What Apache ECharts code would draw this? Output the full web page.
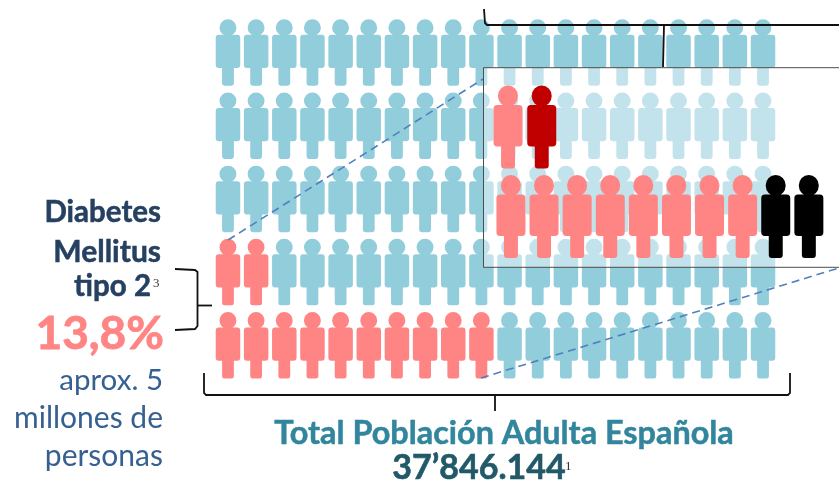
<!DOCTYPE html>
<html><head><meta charset="utf-8">
<style>html,body{margin:0;padding:0;background:#fff}#c{width:839px;height:481px}</style>
<script src="https://cdn.jsdelivr.net/npm/echarts@6/dist/echarts.min.js"></script>
</head><body><div id="c"></div>
<script>
// ---- data ----
const columnLabels = ['1','2','3','4','5','6','7','8','9','10','11','12','13','14','15','16','17','18','19','20'];
const rowLabels = ['A','B','C','D','E'];
const diabetesPerRow = [0, 0, 0, 2, 10];      // highlighted figures in each row, counted from the left
const insetTopLabels = ['1','2'];
const insetTopColours = ['#FF8585', '#C00000'];
const insetBottomLabels = ['1','2','3','4','5','6','7','8','9','10'];
const insetBottomColours = ['#FF8585','#FF8585','#FF8585','#FF8585','#FF8585','#FF8585','#FF8585','#FF8585','#000000','#000000'];
const textDiabetes = ['Diabetes', 'Mellitus', 'tipo 2'];
const textShare = '13,8%';
const textApprox = ['aprox. 5', 'millones de', 'personas'];
const textTotalLabel = 'Total Población Adulta Española';
const textTotalValue = '37’846.144';
// ---- drawing ----
const PERSON = 'path://M37 84a84 84 0 1 1 168 0a84 84 0 1 1 -168 0Z' +
  'M30 155H213Q243 155 243 185V457Q243 487 213 487H180V640Q180 664 156 664H87Q63 664 63 640V487H30Q0 487 0 457V185Q0 155 30 155Z';
const BLUE = '#92CDDC', PINK = '#FF8585';
const basePoints = [], hiPoints = [];
rowLabels.forEach((r, i) => columnLabels.forEach((c, j) => {
  (j < diabetesPerRow[i] ? hiPoints : basePoints).push([c, r]);
}));
function cat(gridIndex, data, extra){return Object.assign({type:'category',gridIndex,data,show:false,boundaryGap:true},extra||{});}
const rect = (shape, style, z) => ({type:'rect', shape, style, z, silent:true});
const poly = (points, style, z) => ({type:'polyline', shape:{points}, style:Object.assign({fill:null}, style), z, silent:true});
const BL = {stroke:'#111', lineWidth:1.8};
const text = (t, x, y, fill, font, align, heavy) => ({type:'text', z:30, silent:true,
  style:Object.assign({text:t, x, y, fill, font, textAlign:align||'right', textVerticalAlign:'middle'},
    heavy ? {stroke:fill, lineWidth:heavy} : {})});
const F = '"Lato","Carlito",sans-serif';
const bold = s => 'bold '+s+'px '+F;
const reg = s => s+'px '+F;
const DARK = '#254061', MID = '#376092';
const option = {
  animation:false,
  backgroundColor:'#fff',
  grid:[
    {left:213.9, top:15.9, width:563.2, height:366},
    {left:491.2, top:82, width:67.4, height:90},
    {left:494.4, top:171.5, width:331, height:90}
  ],
  xAxis:[cat(0,columnLabels),cat(1,insetTopLabels),cat(2,insetBottomLabels)],
  yAxis:[cat(0,rowLabels,{inverse:true}),cat(1,['a']),cat(2,['b'])],
  series:[
    {type:'scatter',name:'Población',xAxisIndex:0,yAxisIndex:0,symbol:PERSON,symbolSize:[24.5,66.5],z:2,silent:true,
     itemStyle:{color:BLUE,opacity:1},data:basePoints},
    {type:'scatter',name:'Diabetes',xAxisIndex:0,yAxisIndex:0,symbol:PERSON,symbolSize:[24.5,66.5],z:2,silent:true,
     itemStyle:{color:PINK,opacity:1},data:hiPoints},
    {type:'scatter',name:'Detalle 1',xAxisIndex:1,yAxisIndex:1,symbol:PERSON,symbolSize:[29,83],z:20,silent:true,
     data:insetTopLabels.map((c,i)=>({value:[c,'a'],itemStyle:{color:insetTopColours[i],opacity:1}}))},
    {type:'scatter',name:'Detalle 2',xAxisIndex:2,yAxisIndex:2,symbol:PERSON,symbolSize:[29,83],z:20,silent:true,
     data:insetBottomLabels.map((c,i)=>({value:[c,'b'],itemStyle:{color:insetBottomColours[i],opacity:1}}))}
  ],
  graphic:{elements:[
    rect({x:483.5,y:67.7,width:370,height:199.6},{fill:'rgba(255,255,255,0.45)',stroke:'#4d4d4d',lineWidth:1},10),
    poly([[228,240],[483,79]],{stroke:'#4F81BD',lineWidth:1.6,lineDash:[8,5]},5),
    poly([[481,378],[842,267]],{stroke:'#4F81BD',lineWidth:1.6,lineDash:[8,5]},5),
    poly([[484,9],[485,23],[487,25],[845,25]],BL,6),
    poly([[664,25],[663,67]],BL,6),
    poly([[204,373],[204,393],[206,395],[788,395],[790,393],[790,373]],BL,6),
    poly([[495,395],[495,411]],BL,6),
    poly([[175,269],[195,270],[197.5,272],[197.5,326],[195,329],[175,330]],BL,6),
    poly([[197.5,305.5],[212,305.5]],BL,6),
    text(textDiabetes[0],161,212,DARK,bold(29.5),'right',0.5),
    text(textDiabetes[1],161,252,DARK,bold(30),'right',0.5),
    text(textDiabetes[2],151,286,DARK,bold(29.5),'right',0.5),
    text('3',153,284,'#333','13px "Liberation Serif"','left'),
    text(textShare,164,334,PINK,bold(46),'right',0.8),
    text(textApprox[0],163,380,MID,reg(29.5)),
    text(textApprox[1],163,418,MID,reg(30)),
    text(textApprox[2],163,456,MID,reg(30)),
    text(textTotalLabel,504,434,'#31859C',bold(32.4),'center',0.5),
    text(textTotalValue,479,468,'#215968',bold(34),'center',0.6),
    text('1',565,467,'#333','13px "Liberation Serif"','left')
  ]}
};
const chart = echarts.init(document.getElementById('c'),null,{renderer:'canvas'});
chart.setOption(option);
</script></body></html>
